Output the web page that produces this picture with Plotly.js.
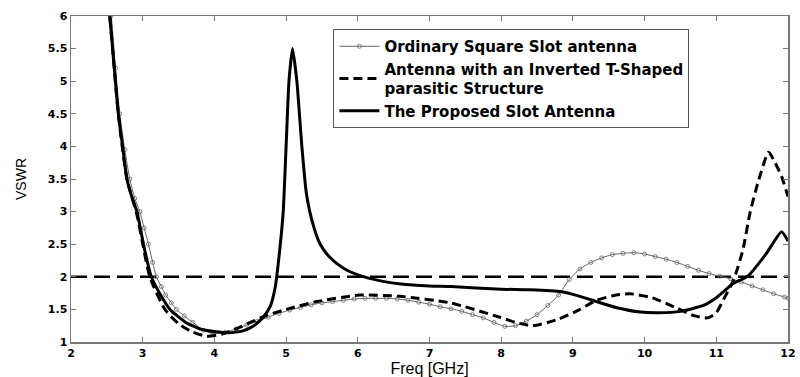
<!DOCTYPE html>
<html>
<head>
<meta charset="utf-8">
<script src="https://cdn.plot.ly/plotly-3.0.1.min.js"></script>
<style>html,body{margin:0;padding:0;background:#fff;}#chart{width:800px;height:377px;}</style>
</head>
<body>
<div id="chart"></div>
<script>
// Ordinary Square Slot antenna
const ordFreq = [2.50,2.56,2.62,2.68,2.75,2.82,2.89,2.96,3.02,3.08,3.14,3.19,3.26,3.32,3.40,3.47,3.58,3.70,3.85,3.98,
  4.15,4.30,4.45,4.60,4.75,4.90,5.05,5.20,5.35,5.50,5.65,5.80,5.95,6.10,6.25,6.40,6.55,6.70,6.85,7.00,7.15,7.30,7.45,7.60,7.75,7.90,8.05,8.20,8.35,8.50,8.65,8.80,8.95,9.10,9.25,9.40,9.55,9.70,9.85,10.00,10.15,10.30,10.45,10.60,10.75,10.90,11.05,11.20,11.35,11.50,11.65,11.80,11.95,12.00];
const ordVswr = [6.30,6.00,5.20,4.50,3.95,3.50,3.20,3.00,2.75,2.50,2.22,2.00,1.85,1.72,1.60,1.50,1.40,1.30,1.18,1.13,
  1.15,1.20,1.26,1.32,1.38,1.44,1.49,1.53,1.57,1.60,1.62,1.64,1.66,1.67,1.67,1.67,1.66,1.64,1.61,1.58,1.54,1.51,1.47,1.42,1.37,1.30,1.24,1.25,1.32,1.42,1.56,1.72,1.96,2.12,2.22,2.29,2.34,2.36,2.37,2.35,2.31,2.27,2.22,2.16,2.10,2.05,2.01,1.97,1.92,1.86,1.80,1.74,1.69,1.67];

// Antenna with an Inverted T-Shaped parasitic Structure
const invFreq = [2.50,2.54,2.66,2.78,2.92,3.10,3.31,3.50,3.70,3.89,4.10,4.30,4.50,4.73,5.00,5.43,6.03,6.59,7.29,7.98,8.20,8.44,8.80,9.10,9.33,9.60,9.80,10.10,10.45,10.70,10.88,11.00,11.10,11.24,11.37,11.47,11.58,11.73,11.82,11.91,12.00];
const invVswr = [6.40,6.00,4.50,3.50,2.95,2.00,1.50,1.28,1.15,1.09,1.12,1.20,1.30,1.41,1.50,1.62,1.72,1.70,1.60,1.38,1.30,1.25,1.35,1.50,1.64,1.72,1.74,1.68,1.52,1.40,1.37,1.45,1.65,1.95,2.41,2.98,3.44,3.91,3.75,3.54,3.23];

// The Proposed Slot Antenna
const propFreq = [2.50,2.54,2.60,2.66,2.72,2.78,2.85,2.92,3.02,3.12,3.25,3.38,3.60,3.80,4.00,4.20,4.40,4.55,4.68,4.78,4.85,4.91,4.96,5.00,5.04,5.09,5.15,5.22,5.28,5.33,5.39,5.45,5.52,5.60,5.70,5.85,6.00,6.15,6.35,6.60,7.00,7.30,8.00,8.40,8.84,9.10,9.33,9.60,9.94,10.20,10.50,10.82,11.00,11.24,11.44,11.70,11.91,12.00];
const propVswr = [6.30,6.00,5.25,4.50,4.00,3.50,3.22,3.00,2.45,2.00,1.72,1.50,1.30,1.20,1.16,1.14,1.17,1.25,1.38,1.55,1.85,2.40,3.00,4.00,5.00,5.50,5.00,4.00,3.30,3.00,2.75,2.56,2.42,2.31,2.21,2.10,2.03,1.98,1.93,1.89,1.86,1.85,1.81,1.80,1.77,1.70,1.62,1.53,1.46,1.45,1.47,1.56,1.68,1.90,2.01,2.36,2.69,2.55];

// VSWR = 2 reference line
const refFreq = [2, 12];
const refVswr = [2, 2];

const xTicks = [2,3,4,5,6,7,8,9,10,11,12];
const yTicks = [1,1.5,2,2.5,3,3.5,4,4.5,5,5.5,6];

const FONT = 'Arial, "Liberation Sans", sans-serif';
const WIDE = '"DejaVu Sans", Arial, sans-serif';

const traces = [
  {x: refFreq, y: refVswr, mode: 'lines', showlegend: false, hoverinfo: 'skip',
   line: {color: '#000', width: 2.5, dash: '16px,7px'}},
  {x: ordFreq, y: ordVswr, mode: 'lines+markers', name: 'Ordinary Square Slot antenna',
   line: {color: '#666', width: 1, shape: 'spline', smoothing: 0.6},
   marker: {symbol: 'circle-open', size: 4, color: '#666', line: {width: 0.8}}},
  {x: invFreq, y: invVswr, mode: 'lines', name: 'Antenna with an Inverted T-Shaped<br>parasitic Structure',
   line: {color: '#000', width: 3, dash: '9px,5px', shape: 'spline', smoothing: 0.6}},
  {x: propFreq, y: propVswr, mode: 'lines', name: 'The Proposed Slot Antenna',
   line: {color: '#000', width: 3, shape: 'spline', smoothing: 0.5}}
];

const axisCommon = {
  showline: true, linecolor: '#777', linewidth: 1.5, mirror: 'ticks',
  ticks: 'inside', ticklen: 5, tickcolor: '#777', tickwidth: 1,
  showgrid: false, zeroline: false,
  tickfont: {family: WIDE, size: 11, color: '#000', weight: 'bold'}
};

const layout = {
  width: 800, height: 377,
  margin: {l: 71, r: 12, t: 16, b: 35},
  paper_bgcolor: '#fff', plot_bgcolor: '#fff',
  xaxis: Object.assign({}, axisCommon, {
    range: [2, 12], tickvals: xTicks, ticktext: xTicks.map(String),
    title: {text: 'Freq [GHz]', font: {family: FONT, size: 16, color: '#000'}, standoff: 0}
  }),
  yaxis: Object.assign({}, axisCommon, {
    range: [1, 6], tickvals: yTicks, ticktext: yTicks.map(String),
    title: {text: 'VSWR', font: {family: FONT, size: 14, color: '#000'}, standoff: 18}
  }),
  showlegend: true,
  legend: {
    x: 0.366, y: 0.96, xanchor: 'left', yanchor: 'top',
    bgcolor: '#fff', bordercolor: '#555', borderwidth: 1,
    font: {family: WIDE, size: 15, color: '#000', weight: 'bold'},
    tracegroupgap: 0, itemwidth: 40
  }
};

Plotly.newPlot('chart', traces, layout, {staticPlot: true, displayModeBar: false});
</script>
</body>
</html>
